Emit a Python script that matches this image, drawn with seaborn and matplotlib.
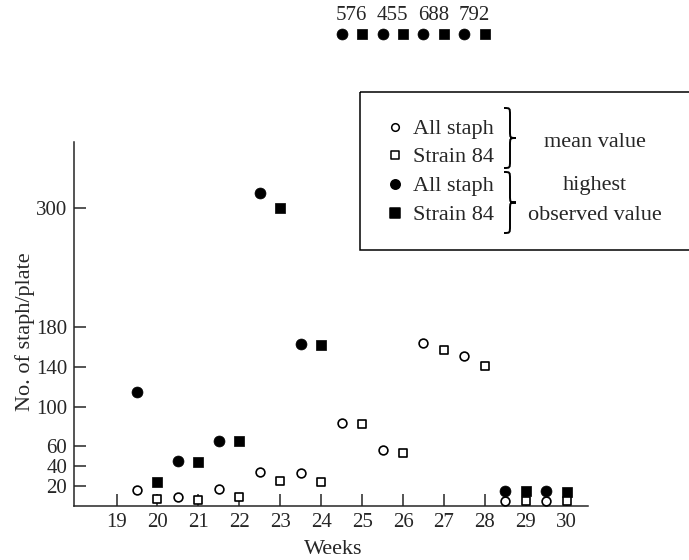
import numpy as np
import pandas as pd
import matplotlib
matplotlib.use("Agg")
import matplotlib.pyplot as plt
import seaborn as sns
from matplotlib.path import Path
from matplotlib.patches import PathPatch, Rectangle

# --- data ---
weeks_all = [19.5, 20.5, 21.5, 22.5, 23.5, 24.5, 25.5, 26.5, 27.5, 28.5, 29.5]
weeks_strain = [20, 21, 22, 23, 24, 25, 26, 27, 28, 29, 30]
mean_all = [16, 9, 17, 34, 33, 84, 56, 164, 151, 5, 5]
mean_strain = [7, 6, 9, 25, 24, 83, 53, 157, 141, 5, 5]
high_all = [115, 45, 65, 315, 163, 576, 455, 688, 792, 15, 15]
high_strain = [24, 44, 65, 300, 162, 576, 455, 688, 792, 15, 14]

x_ticks = list(range(19, 31))
y_ticks = [20, 40, 60, 100, 140, 180, 300]

YMAX = 366.5
OFF_ROW = 475     # where off-scale values are drawn
OFF_LABEL = 494

sns.set_style("ticks")
plt.rcParams['font.family'] = ['Liberation Serif', 'DejaVu Serif']
plt.rcParams['font.size'] = 16
plt.rcParams['axes.linewidth'] = 1.1

df = pd.concat([
    pd.DataFrame({'week': weeks_all, 'count': mean_all, 'group': 'All staph', 'stat': 'mean'}),
    pd.DataFrame({'week': weeks_strain, 'count': mean_strain, 'group': 'Strain 84', 'stat': 'mean'}),
    pd.DataFrame({'week': weeks_all, 'count': high_all, 'group': 'All staph', 'stat': 'highest'}),
    pd.DataFrame({'week': weeks_strain, 'count': high_strain, 'group': 'Strain 84', 'stat': 'highest'}),
], ignore_index=True)
df['shown'] = np.where(df['count'] > YMAX, OFF_ROW, df['count'])

W, H = 689, 560
fig = plt.figure(figsize=(W / 100, H / 100), dpi=100)
ax = fig.add_axes([74 / W, (H - 506) / H, (588 - 74) / W, (506 - 142) / H])

styles = {
    ('All staph', 'highest'): dict(marker='o', s=62, color='black', edgecolor='black', linewidth=0.5),
    ('Strain 84', 'highest'): dict(marker='s', s=54, color='black', edgecolor='black', linewidth=0.5),
    ('All staph', 'mean'): dict(marker='o', s=40, color='white', edgecolor='black', linewidth=1.2),
    ('Strain 84', 'mean'): dict(marker='s', s=36, color='white', edgecolor='black', linewidth=1.2),
}
for (grp, stat), kw in styles.items():
    sub = df[(df['group'] == grp) & (df['stat'] == stat)]
    sns.scatterplot(data=sub, x='week', y='shown', ax=ax, clip_on=False,
                    zorder=3 if stat == 'mean' else 2, legend=False, **kw)

# numbers over the off-scale pairs
off = df[(df['stat'] == 'highest') & (df['group'] == 'All staph') & (df['count'] > YMAX)]
for wk, v in zip(off['week'], off['count']):
    ax.text(wk + 0.25, OFF_LABEL, str(v), ha='center', va='center', fontsize=15, clip_on=False)

ax.set_xlim(17.96, 30.52)
ax.set_ylim(0, YMAX)
ax.set_xticks(x_ticks)
ax.set_yticks(y_ticks)
ax.tick_params(direction='in', length=8.5, width=1.1, labelsize=15, pad=5)
sns.despine(ax=ax)
ax.set_xlabel('Weeks', fontsize=16)
ax.set_ylabel('No. of staph/plate', fontsize=16)
ax.xaxis.set_label_coords(0.504, -0.094)
ax.yaxis.set_label_coords(-0.075, 0.48)

# --- hand-made key, laid out in figure pixels ---
key = fig.add_axes([0, 0, 1, 1])
key.set_xlim(0, W)
key.set_ylim(H, 0)
key.axis('off')
key.patch.set_alpha(0)
key.add_patch(Rectangle((360, 92), 400, 158, fill=False, lw=1.1, ec='black'))

rows = [127, 155, 184, 213]
key_labels = ['All staph', 'Strain 84', 'All staph', 'Strain 84']
key_marks = [('o', 'white', 30), ('s', 'white', 28), ('o', 'black', 46), ('s', 'black', 42)]
for yy, lab, (mk, fc, sz) in zip(rows, key_labels, key_marks):
    key.scatter([395], [yy], marker=mk, s=sz, facecolor=fc, edgecolor='black', linewidth=1.1)
    key.text(413, yy, lab, ha='left', va='center_baseline', fontsize=16)


def brace(axk, x0, y0, y1, w):
    ym = (y0 + y1) / 2
    xm = x0 + w / 2
    r = w * 0.6
    verts = [(x0, y0), (xm, y0), (xm, y0), (xm, y0 + r),
             (xm, ym - r),
             (xm, ym), (xm, ym), (x0 + w, ym),
             (xm, ym), (xm, ym), (xm, ym + r),
             (xm, y1 - r),
             (xm, y1), (xm, y1), (x0, y1)]
    codes = [Path.MOVETO, Path.CURVE4, Path.CURVE4, Path.CURVE4,
             Path.LINETO,
             Path.CURVE4, Path.CURVE4, Path.CURVE4,
             Path.CURVE4, Path.CURVE4, Path.CURVE4,
             Path.LINETO,
             Path.CURVE4, Path.CURVE4, Path.CURVE4]
    axk.add_patch(PathPatch(Path(verts, codes), fill=False, lw=1.4, ec='black'))


brace(key, 504, 108, 168, 12)
brace(key, 504, 172, 233, 12)
key.text(595, 140, 'mean value', ha='center', va='center_baseline', fontsize=16)
key.text(595, 183, 'highest', ha='center', va='center_baseline', fontsize=16)
key.text(595, 213, 'observed value', ha='center', va='center_baseline', fontsize=16)

fig.savefig('out.png', dpi=100, facecolor='white')
